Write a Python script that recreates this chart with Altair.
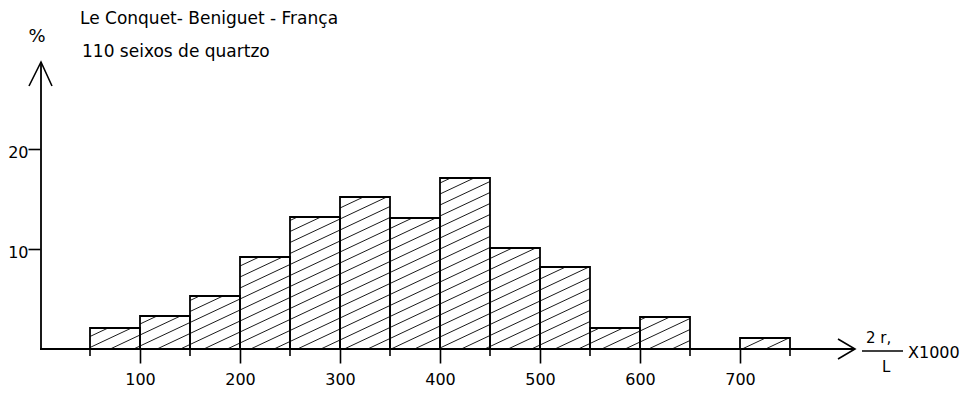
import altair as alt
import pandas as pd
import numpy as np

# ---- data ----
bin_start = [50, 100, 150, 200, 250, 300, 350, 400, 450, 500, 550, 600, 700]
bin_end   = [100, 150, 200, 250, 300, 350, 400, 450, 500, 550, 600, 650, 750]
percent   = [2.1, 3.3, 5.3, 9.2, 13.2, 15.2, 13.1, 17.1, 10.1, 8.2, 2.1, 3.2, 1.1]
x_ticks = [100, 200, 300, 400, 500, 600, 700]
y_ticks = [10, 20]
minor_ticks = [50, 150, 250, 350, 450, 550, 650, 750]
title1 = "Le Conquet- Beniguet - França"
title2 = "110 seixos de quartzo"

# ---- layout ----
PAD_TOP = 4
W, H = 923, 337
XMAX = 923.0
YMAX = 33.7
PX_PER_X = W / XMAX      # 1 px per unit
PX_PER_Y = H / YMAX      # 10 px per percent
FONT = "DejaVu Sans"

bars = pd.DataFrame({"x0": bin_start, "x1": bin_end, "p": percent})
one = pd.DataFrame({"a": [0]})

# hatch segments derived from bars (decoration)
slope = 0.47   # px up per px right
gap = 11.0     # vertical px spacing
segs = []
for x0, x1, p in zip(bin_start, bin_end, percent):
    X0, X1 = x0 * PX_PER_X, x1 * PX_PER_X
    Hh = p * PX_PER_Y
    bmin = -slope * X1
    bmax = Hh - slope * X0
    k0 = int(np.floor(bmin / gap))
    k1 = int(np.ceil(bmax / gap))
    for k in range(k0, k1 + 1):
        b = k * gap
        xa = max(X0, (0 - b) / slope)
        xb = min(X1, (Hh - b) / slope)
        if xb - xa > 1.0:
            segs.append({
                "hx": xa / PX_PER_X, "hx2": xb / PX_PER_X,
                "hy": (slope * xa + b) / PX_PER_Y, "hy2": (slope * xb + b) / PX_PER_Y,
            })
hatch = pd.DataFrame(segs)

xs = alt.Scale(domain=[0, XMAX], nice=False, zero=False)
ys = alt.Scale(domain=[0, YMAX], nice=False, zero=False)

base_axes = alt.Chart(bars).mark_rect(fill="white", strokeWidth=0).encode(
    x=alt.X("x0:Q", scale=xs, axis=alt.Axis(values=x_ticks, title=None, domain=False, grid=False,
                                             tickSize=14, tickWidth=1.6, tickColor="black",
                                             labelFont=FONT, labelFontSize=16, labelColor="black",
                                             labelPadding=8, labelFlush=False, labelOverlap=False)),
    x2="x1:Q",
    y=alt.Y("p:Q", scale=ys, axis=alt.Axis(values=y_ticks, title=None, domain=False, grid=False,
                                            tickSize=12, tickWidth=1.6, tickColor="black",
                                            labelFont=FONT, labelFontSize=16, labelColor="black",
                                            labelPadding=0, labelOffset=3, labelFlush=False)),
    y2=alt.datum(0),
)

hatch_layer = alt.Chart(hatch).mark_rule(color="black", strokeWidth=0.9).encode(
    x=alt.X("hx:Q", scale=xs, axis=None), x2="hx2:Q",
    y=alt.Y("hy:Q", scale=ys, axis=None), y2="hy2:Q",
)

outline = alt.Chart(bars).mark_rect(fillOpacity=0, stroke="black", strokeWidth=1.8).encode(
    x=alt.X("x0:Q", scale=xs, axis=None), x2="x1:Q",
    y=alt.Y("p:Q", scale=ys, axis=None), y2=alt.datum(0),
)

minor = alt.Chart(pd.DataFrame({"m": minor_ticks})).mark_rule(color="black", strokeWidth=1.6).encode(
    x=alt.X("m:Q", scale=xs, axis=None), y=alt.value(H), y2=alt.value(H + 7),
)

# axes lines with arrows (pixel styling, in plot-area pixels)
Y_TIP = 54 - PAD_TOP
x_axis_line = alt.Chart(one).mark_rule(color="black", strokeWidth=1.8).encode(
    x=alt.value(0), x2=alt.value(815), y=alt.value(H), y2=alt.value(H))
y_axis_line = alt.Chart(one).mark_rule(color="black", strokeWidth=1.8).encode(
    x=alt.value(1), x2=alt.value(1), y=alt.value(Y_TIP), y2=alt.value(H))
arrow_rows = pd.DataFrame({
    "ax": [798, 815, 798, -11, 1, 12],
    "ay": [H - 10, H, H + 10, Y_TIP + 24, Y_TIP, Y_TIP + 24],
    "g":  ["x", "x", "x", "y", "y", "y"],
    "o":  [0, 1, 2, 0, 1, 2],
})
arrows = alt.Chart(arrow_rows).mark_line(color="black", strokeWidth=1.6).encode(
    x=alt.X("ax:Q", scale=alt.Scale(domain=[0, W], range=[0, W]), axis=None),
    y=alt.Y("ay:Q", scale=alt.Scale(domain=[0, H], range=[0, H]), axis=None),
    detail="g:N", order="o:Q",
)

def txt(s, x, y, size=16, align="left"):
    return alt.Chart(one).mark_text(text=s, font=FONT, fontSize=size, color="black",
                                    align=align, baseline="middle").encode(
        x=alt.value(x), y=alt.value(y - PAD_TOP))

texts = [
    txt(title1, 40, 11, 17),
    txt(title2, 42, 44, 17),
    txt("%", -3, 29, 18, "center"),
    txt("2 r,", 826, 330, 15),
    txt("L", 842, 359, 15),
    txt("X1000", 868, 345, 16),
]
frac = alt.Chart(one).mark_rule(color="black", strokeWidth=1.4).encode(
    x=alt.value(822), x2=alt.value(863), y=alt.value(343 - PAD_TOP), y2=alt.value(343 - PAD_TOP))

chart = alt.layer(base_axes, hatch_layer, outline, minor, x_axis_line, y_axis_line, arrows, frac, *texts).resolve_scale(
    x="independent", y="independent"
).properties(
    width=W, height=H,
    background="white",
    autosize=alt.AutoSizeParams(type="none"),
    padding={"left": 32, "top": PAD_TOP, "right": 0, "bottom": 39},
).configure_view(stroke="transparent", strokeWidth=0)

chart.save("out.html", embed_options={"renderer": "svg", "actions": False})
